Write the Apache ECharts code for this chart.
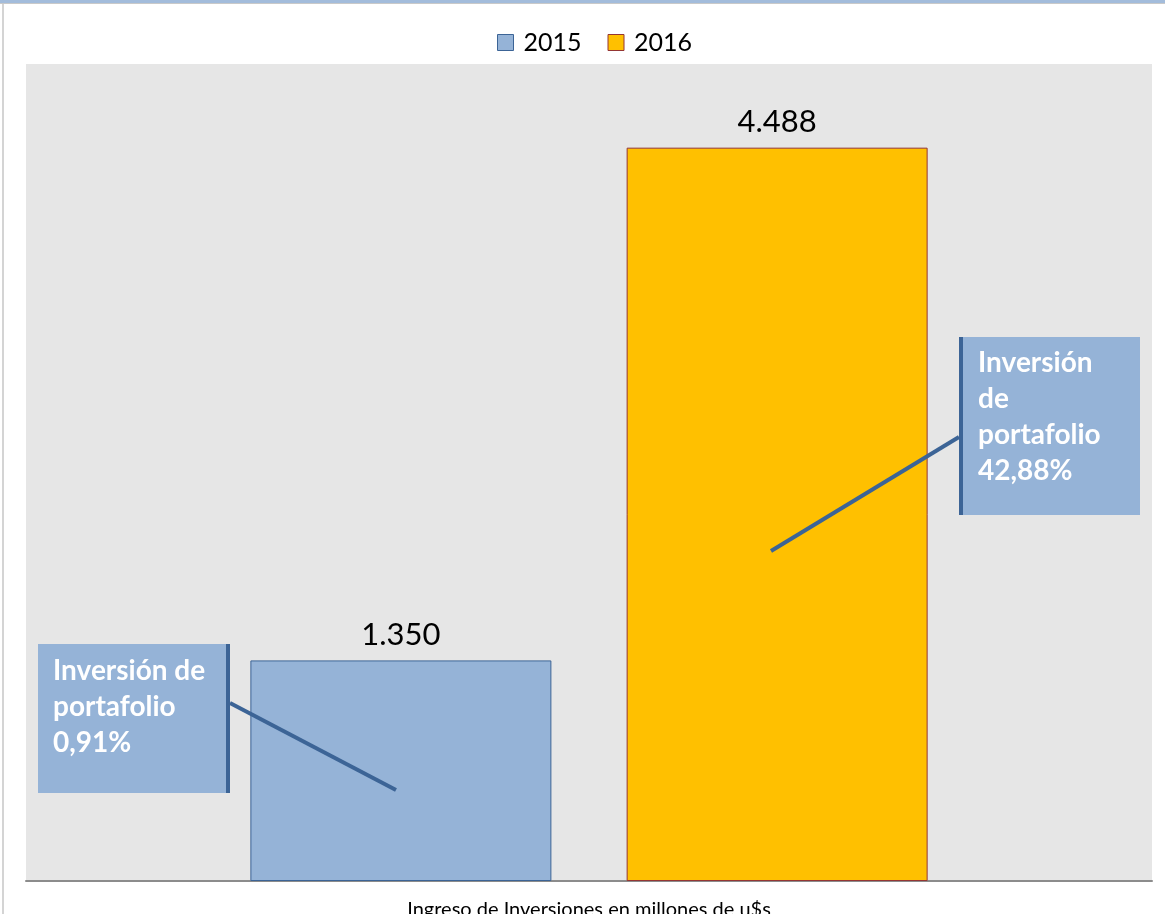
<!DOCTYPE html>
<html>
<head>
<meta charset="utf-8">
<script src="https://cdn.jsdelivr.net/npm/echarts@6/dist/echarts.min.js"></script>
<style>
html,body{margin:0;padding:0;background:#fff;}
#chart{width:1165px;height:914px;}
</style>
</head>
<body>
<div id="chart"></div>
<script>
const categories = ['Ingreso de Inversiones en millones de u$s'];
const seriesNames = ['2015', '2016'];
const values2015 = [1350];
const values2016 = [4488];
const callouts = ['Inversión de\nportafolio\n0,91%', 'Inversión\nde\nportafolio\n42,88%'];

const fmt = v => String(v).replace(/\B(?=(\d{3})+(?!\d))/g, '.');
const FONT = 'Lato, "Open Sans", sans-serif';

const chart = echarts.init(document.getElementById('chart'), null, {renderer: 'canvas'});

const labelCfg = {
  show: true, position: 'top', distance: 10,
  color: '#000', fontSize: 31, fontFamily: FONT,
  formatter: p => fmt(p.value)
};

chart.setOption({
  animation: false,
  backgroundColor: '#ffffff',
  legend: {
    top: 25, left: 492,
    itemWidth: 16, itemHeight: 16, itemGap: 26,
    textStyle: {fontSize: 25, fontFamily: FONT, color: '#000', padding: [0,0,0,5]},
    data: [
      {name: seriesNames[0], icon: 'rect', itemStyle: {color: '#95b3d7', borderColor: '#3c6496', borderWidth: 1}},
      {name: seriesNames[1], icon: 'rect', itemStyle: {color: '#ffc000', borderColor: '#943634', borderWidth: 1}}
    ]
  },
  grid: {left: 26, right: 13, top: 64, bottom: 33, outerBoundsMode: 'none', containLabel: false,
         show: true, backgroundColor: '#e6e6e6', borderWidth: 0},
  xAxis: {
    type: 'category', data: categories,
    axisLine: {show: true, lineStyle: {color: '#8c8c8c', width: 2}},
    axisTick: {show: false},
    axisLabel: {fontSize: 20, fontFamily: FONT, color: '#000', margin: 19}
  },
  yAxis: {
    type: 'value', min: 0, max: 5000, interval: 1000,
    show: false, splitLine: {show: false}
  },
  series: [
    {name: seriesNames[0], type: 'bar', data: values2015, barWidth: 301, barGap: '25%',
     itemStyle: {color: '#95b3d7', borderColor: '#3c6496', borderWidth: 1}, label: labelCfg},
    {name: seriesNames[1], type: 'bar', data: values2016, barWidth: 301,
     itemStyle: {color: '#ffc000', borderColor: '#943634', borderWidth: 1}, label: labelCfg}
  ],
  graphic: [
    {type: 'rect', shape: {x: 0, y: 0, width: 1165, height: 3}, style: {fill: '#a3bcdb'}, z: 100},
    {type: 'rect', shape: {x: 0, y: 3, width: 1165, height: 1}, style: {fill: '#c9c9c9'}, z: 100},
    {type: 'rect', shape: {x: 2, y: 4, width: 2, height: 910}, style: {fill: '#d4d4d4'}, z: 100},
    // callout 2015
    {type: 'rect', shape: {x: 38, y: 644, width: 192, height: 149}, style: {fill: '#95b3d7'}, z: 50},
    {type: 'rect', shape: {x: 226, y: 644, width: 4, height: 149}, style: {fill: '#3c6496'}, z: 51},
    {type: 'line', shape: {x1: 230, y1: 703, x2: 396, y2: 790}, style: {stroke: '#3c6496', lineWidth: 4}, z: 52},
    {type: 'text', x: 53, y: 653, style: {text: callouts[0], fill: '#ffffff', font: 'bold 28px ' + FONT, lineHeight: 36}, z: 53},
    // callout 2016
    {type: 'rect', shape: {x: 959, y: 337, width: 181, height: 178}, style: {fill: '#95b3d7'}, z: 50},
    {type: 'rect', shape: {x: 959, y: 337, width: 4, height: 178}, style: {fill: '#3c6496'}, z: 51},
    {type: 'line', shape: {x1: 959, y1: 437, x2: 771, y2: 551}, style: {stroke: '#3c6496', lineWidth: 4}, z: 52},
    {type: 'text', x: 978, y: 345, style: {text: callouts[1], fill: '#ffffff', font: 'bold 28px ' + FONT, lineHeight: 36}, z: 53}
  ]
});
</script>
</body>
</html>
